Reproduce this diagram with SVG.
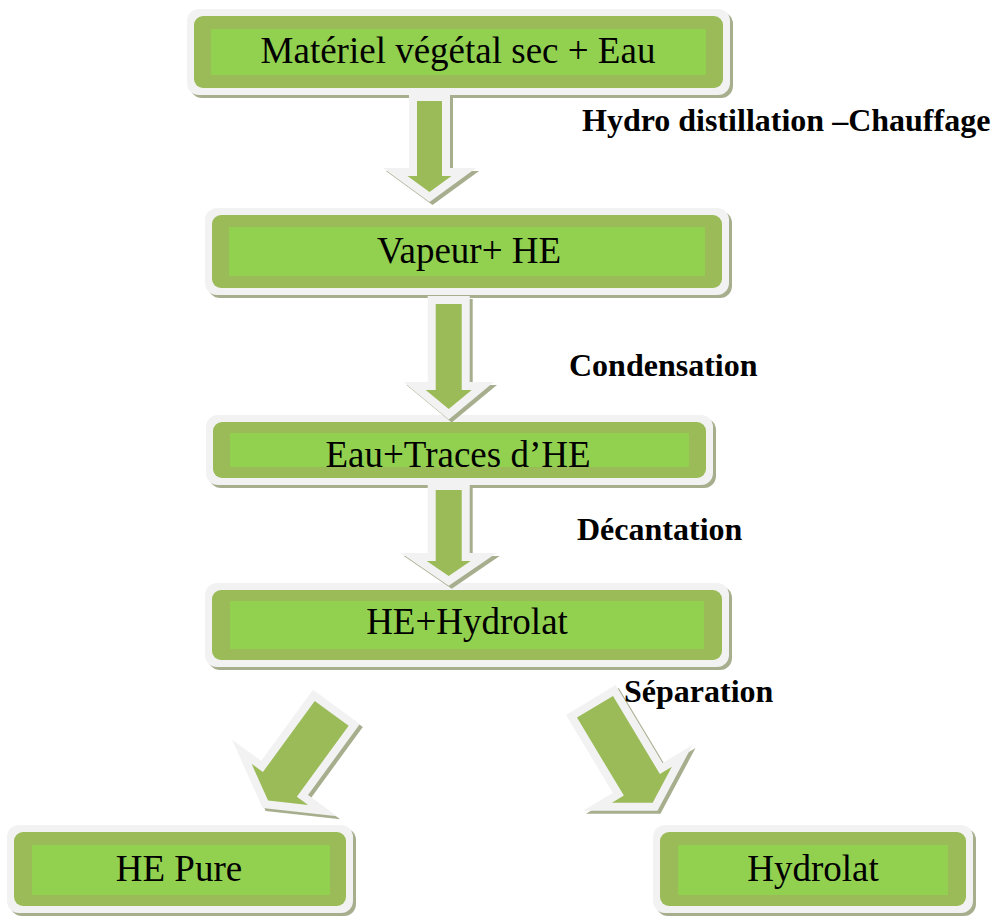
<svg xmlns="http://www.w3.org/2000/svg" width="998" height="918" viewBox="0 0 998 918">
<style>
.sh{fill:#a6ae8e}
.wb{fill:#f2f2f2}
.gb{fill:#9bbb59}
.ib{fill:#92d050}
.t{font-family:"Liberation Serif","Times New Roman",serif;font-size:37px;fill:#000;text-anchor:middle}
.lb{font-family:"Liberation Serif","Times New Roman",serif;font-size:32px;font-weight:bold;fill:#000}
.ash{fill:#a6ae8e;stroke:#a6ae8e;stroke-width:16;stroke-linejoin:miter;stroke-miterlimit:10}
.aw{fill:#f2f2f2;stroke:#f2f2f2;stroke-width:16;stroke-linejoin:miter;stroke-miterlimit:10}
.ag{fill:#9bbb59}
</style>
<defs>
<polygon id="p1" points="-12.5,0 12.5,0 12.5,75 22,75 0,91 -22,75 -12.5,75"/>
<polygon id="p2" points="-13,0 13,0 13,86 23,86 0,105 -23,86 -13,86"/>
<polygon id="p3" points="-13,0 13,0 13,71 22,71 0,86 -22,71 -13,71"/>
<polygon id="p4" points="-21,0 21,0 21,88 35,88 0,108 -35,88 -21,88"/>
<polygon id="p5" points="-21,0 21,0 21,91 35,91 0,112 -35,91 -21,91"/>
</defs>
<rect width="998" height="918" fill="#fff"/>
<g id="n1">
<rect class="sh" x="190" y="12" width="543" height="86" rx="12"/>
<rect class="wb" x="187" y="9" width="543" height="86" rx="12"/>
<rect class="gb" x="194" y="16" width="529" height="72" rx="9"/>
<rect class="ib" x="211" y="29" width="495" height="46"/>
<text class="t" x="458" y="63">Matériel végétal sec + Eau</text>
</g>
<g id="n2">
<rect class="sh" x="208" y="211" width="524" height="87" rx="12"/>
<rect class="wb" x="205" y="208" width="524" height="87" rx="12"/>
<rect class="gb" x="212" y="215" width="510" height="73" rx="9"/>
<rect class="ib" x="229" y="227" width="476" height="49"/>
<text class="t" x="469" y="263">Vapeur+ HE</text>
</g>
<g id="n3">
<rect class="sh" x="209" y="418" width="507" height="70" rx="12"/>
<rect class="wb" x="206" y="415" width="507" height="70" rx="12"/>
<rect class="gb" x="213" y="422" width="493" height="56" rx="9"/>
<rect class="ib" x="230" y="433" width="459" height="34"/>
<text class="t" x="458" y="467">Eau+Traces d’HE</text>
</g>
<g id="n4">
<rect class="sh" x="208" y="586" width="524" height="84" rx="12"/>
<rect class="wb" x="205" y="583" width="524" height="84" rx="12"/>
<rect class="gb" x="212" y="590" width="510" height="70" rx="9"/>
<rect class="ib" x="230" y="601" width="474" height="48"/>
<text class="t" x="467" y="634">HE+Hydrolat</text>
</g>
<g id="n5">
<rect class="sh" x="10" y="828" width="346" height="88" rx="12"/>
<rect class="wb" x="7" y="825" width="346" height="88" rx="12"/>
<rect class="gb" x="14" y="832" width="332" height="74" rx="9"/>
<rect class="ib" x="32" y="845" width="298" height="50"/>
<text class="t" x="179" y="881">HE Pure</text>
</g>
<g id="n6">
<rect class="sh" x="656" y="828" width="320" height="88" rx="12"/>
<rect class="wb" x="653" y="825" width="320" height="88" rx="12"/>
<rect class="gb" x="660" y="832" width="306" height="74" rx="9"/>
<rect class="ib" x="678" y="845" width="270" height="50"/>
<text class="t" x="813" y="881">Hydrolat</text>
</g>
<g id="connectors">
<g transform="translate(429.5,101)">
<use href="#p1" class="ash" x="3" y="3"/><use href="#p1" class="aw"/><use href="#p1" class="ag"/>
</g>
<g transform="translate(448.7,304)">
<use href="#p2" class="ash" x="3" y="3"/><use href="#p2" class="aw"/><use href="#p2" class="ag"/>
</g>
<g transform="translate(448.7,490)">
<use href="#p3" class="ash" x="3" y="3"/><use href="#p3" class="aw"/><use href="#p3" class="ag"/>
</g>
<g transform="translate(331.7,713.3) rotate(36.1)">
<use href="#p4" class="ash" transform="rotate(-36.1) translate(3,3) rotate(36.1)"/><use href="#p4" class="aw"/><use href="#p4" class="ag"/>
</g>
<g transform="translate(595,706.8) rotate(-31)">
<use href="#p5" class="ash" transform="rotate(31) translate(3,3) rotate(-31)"/><use href="#p5" class="aw"/><use href="#p5" class="ag"/>
</g>
</g>
<g id="labels">
<text class="lb" x="582" y="131">Hydro distillation –Chauffage</text>
<text class="lb" x="569" y="376">Condensation</text>
<text class="lb" x="577" y="540">Décantation</text>
<text class="lb" x="624" y="702">Séparation</text>
</g>
</svg>
